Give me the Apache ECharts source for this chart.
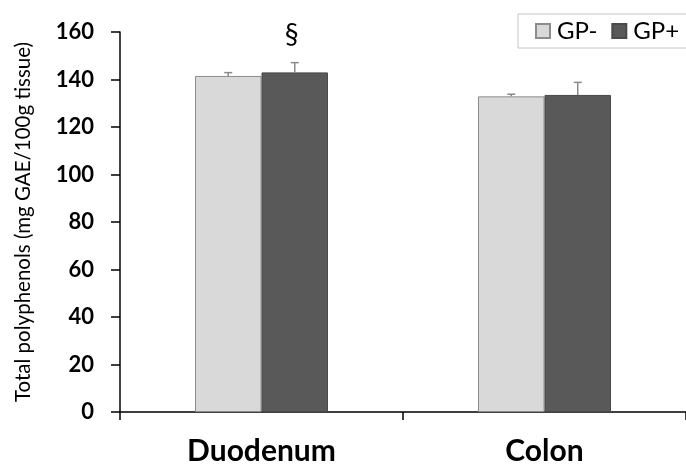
<!DOCTYPE html>
<html>
<head>
<meta charset="utf-8">
<script src="https://cdn.jsdelivr.net/npm/echarts@6/dist/echarts.min.js"></script>
<style>html,body{margin:0;padding:0;background:#fff}#c{width:686px;height:469px}</style>
</head>
<body>
<div id="c"></div>
<script>
const categories = ["Duodenum", "Colon"];
const gpMinus = [141.5, 132.9];
const gpPlus = [143.0, 133.5];
const gpMinusErr = [1.4, 0.9];
const gpPlusErr = [4.1, 5.3];
const sigMarks = ["§", ""];
const yTicks = [0, 20, 40, 60, 80, 100, 120, 140, 160];

const FONT = "Lato";
const GAP = 0.53;

function errSeries(name, vals, errs, side, marks) {
  return {
    type: 'custom',
    name: name + ' err',
    z: 5,
    data: vals.map((v, i) => [i, v, v + errs[i], marks ? marks[i] : ""]),
    renderItem: function (params, api) {
      const cat = api.size([1, 0])[0];
      const bw = cat * (1 - GAP) / 2;
      const base = api.coord([api.value(0), api.value(1)]);
      const top = api.coord([api.value(0), api.value(2)]);
      const x = base[0] + side * bw / 2;
      const children = [
        { type: 'line', shape: { x1: x, y1: base[1], x2: x, y2: top[1] }, style: { stroke: '#8a8a8a', lineWidth: 1.5 } },
        { type: 'line', shape: { x1: x - 4, y1: top[1], x2: x + 4, y2: top[1] }, style: { stroke: '#8a8a8a', lineWidth: 1.5 } }
      ];
      const m = api.value(3);
      if (m) {
        children.push({ type: 'text', style: { text: m, x: x - 3, y: top[1] - 28, fill: '#000', font: '28px ' + FONT, align: 'center', verticalAlign: 'middle' } });
      }
      return { type: 'group', children: children };
    }
  };
}

const chart = echarts.init(document.getElementById('c'));
chart.setOption({
  animation: false,
  grid: { left: 120, right: -4, top: 32, bottom: 57 },
  legend: {
    data: ['GP-', 'GP+'],
    orient: 'horizontal',
    left: 518, top: 14, width: 260,
    icon: 'rect',
    padding: [5, 10, 5, 17],
    borderColor: '#c4c4c4', borderWidth: 1,
    itemWidth: 14, itemHeight: 14, itemGap: 14,
    textStyle: { fontFamily: FONT, fontSize: 24, color: '#000', padding: [0, 0, 0, 2] }
  },
  xAxis: {
    type: 'category',
    data: categories,
    axisLine: { lineStyle: { color: '#000', width: 1.5 } },
    axisTick: { show: true, length: 8, lineStyle: { color: '#000', width: 1.5 } },
    axisLabel: { fontFamily: FONT, fontWeight: 'bold', fontSize: 30, color: '#000', margin: 24 }
  },
  yAxis: {
    type: 'value', min: 0, max: 160, interval: 20,
    name: 'Total polyphenols (mg GAE/100g tissue)',
    nameLocation: 'middle', nameGap: 86, nameRotate: 90,
    nameTextStyle: { fontFamily: FONT, fontSize: 20.5, color: '#000' },
    splitLine: { show: false },
    axisLine: { show: true, lineStyle: { color: '#000', width: 1.5 } },
    axisTick: { show: true, length: 9, lineStyle: { color: '#000', width: 1.5 } },
    axisLabel: { fontFamily: FONT, fontWeight: 'bold', fontSize: 22, color: '#000', margin: 26,
      formatter: v => yTicks.includes(v) ? String(v) : '' }
  },
  series: [
    { type: 'bar', name: 'GP-', data: gpMinus, barGap: 0, barCategoryGap: (GAP * 100) + '%',
      itemStyle: { color: '#d9d9d9', borderColor: '#8c8c8c', borderWidth: 1 } },
    { type: 'bar', name: 'GP+', data: gpPlus, barGap: 0, barCategoryGap: (GAP * 100) + '%',
      itemStyle: { color: '#595959', borderColor: '#4a4a4a', borderWidth: 1 } },
    errSeries('GP-', gpMinus, gpMinusErr, -1, null),
    errSeries('GP+', gpPlus, gpPlusErr, 1, sigMarks)
  ]
});
</script>
</body>
</html>
